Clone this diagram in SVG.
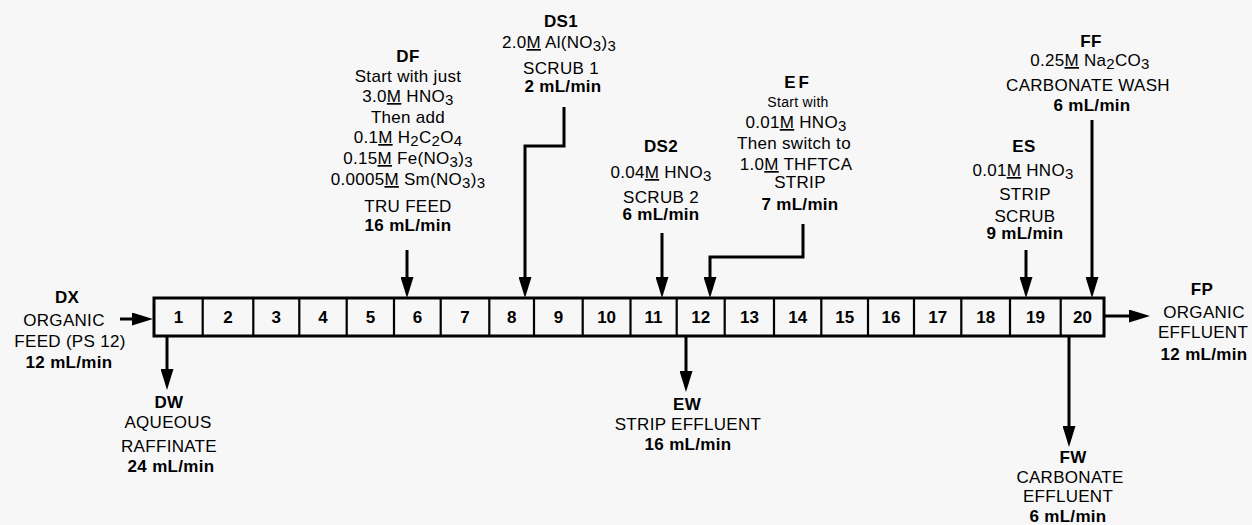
<svg xmlns="http://www.w3.org/2000/svg" width="1252" height="525" viewBox="0 0 1252 525">
<style>
.t{font-family:"Liberation Sans",Arial,Helvetica,sans-serif;font-size:17px;text-anchor:middle;fill:#000;letter-spacing:0.3px}
.b{font-weight:bold}
.s{font-size:14px}
.u{text-decoration:underline}
.sub{font-size:15px}
.ln{stroke:#000;stroke-width:3;fill:none}
.dv{stroke:#000;stroke-width:2.2}
.box{fill:none;stroke:#000;stroke-width:3}
.num{font-family:"Liberation Sans",Arial,Helvetica,sans-serif;font-size:17px;font-weight:bold;text-anchor:middle;fill:#000}
</style>
<defs>
<marker id="ah" markerUnits="userSpaceOnUse" markerWidth="21" markerHeight="13" viewBox="0 0 21 13" refX="13" refY="6.5" orient="auto">
<path d="M0,0 L21,6.5 L0,13 z" fill="#000"/>
</marker>
</defs>
<rect width="1252" height="525" fill="#f7f7f7"/>

<g id="stages">
<rect class="box" x="154" y="298" width="950" height="38"/>
<path class="dv" d="M202.7,298V336M253.3,298V336M299.3,298V336M346.7,298V336M394,298V336M440.7,298V336M489.3,298V336M534,298V336M582.7,298V336M630.5,298V336M676.7,298V336M724.7,298V336M774,298V336M821.3,298V336M868,298V336M914,298V336M961.3,298V336M1010,298V336M1060.7,298V336"/>
<text class="num" x="178.4" y="323">1</text>
<text class="num" x="228" y="323">2</text>
<text class="num" x="276.3" y="323">3</text>
<text class="num" x="323" y="323">4</text>
<text class="num" x="370.4" y="323">5</text>
<text class="num" x="417.4" y="323">6</text>
<text class="num" x="465" y="323">7</text>
<text class="num" x="511.7" y="323">8</text>
<text class="num" x="558.4" y="323">9</text>
<text class="num" x="606.6" y="323">10</text>
<text class="num" x="653.6" y="323">11</text>
<text class="num" x="700.7" y="323">12</text>
<text class="num" x="749.4" y="323">13</text>
<text class="num" x="797.7" y="323">14</text>
<text class="num" x="844.7" y="323">15</text>
<text class="num" x="891" y="323">16</text>
<text class="num" x="937.7" y="323">17</text>
<text class="num" x="985.7" y="323">18</text>
<text class="num" x="1035.4" y="323">19</text>
<text class="num" x="1082.4" y="323">20</text>
</g>

<g id="connectors">
<path class="ln" marker-end="url(#ah)" d="M120,319 H145"/>
<path class="ln" marker-end="url(#ah)" d="M167,336 V382"/>
<path class="ln" marker-end="url(#ah)" d="M407,250 V290"/>
<path class="ln" marker-end="url(#ah)" d="M564,107 V146 H525 V290"/>
<path class="ln" marker-end="url(#ah)" d="M662,233 V290"/>
<path class="ln" marker-end="url(#ah)" d="M803,224 V257 H710 V290"/>
<path class="ln" marker-end="url(#ah)" d="M1026,250 V290"/>
<path class="ln" marker-end="url(#ah)" d="M1092,120 V290"/>
<path class="ln" marker-end="url(#ah)" d="M1104,316 H1142"/>
<path class="ln" marker-end="url(#ah)" d="M686,336 V384"/>
<path class="ln" marker-end="url(#ah)" d="M1069,336 V439"/>
</g>

<g id="DX">
<text class="t b" x="67" y="303">DX</text>
<text class="t" x="64" y="326">ORGANIC</text>
<text class="t" x="70" y="347">FEED (PS 12)</text>
<text class="t b" x="69" y="368">12 mL/min</text>
</g>

<g id="DW">
<text class="t b" x="169" y="408">DW</text>
<text class="t" x="168" y="428">AQUEOUS</text>
<text class="t" x="169" y="452">RAFFINATE</text>
<text class="t b" x="171" y="472">24 mL/min</text>
</g>

<g id="DF">
<text class="t b" x="408" y="62">DF</text>
<text class="t" x="408" y="82">Start with just</text>
<text class="t" x="408" y="102">3.0<tspan class="u">M</tspan> HNO<tspan class="sub" dy="3">3</tspan></text>
<text class="t" x="408" y="123">Then add</text>
<text class="t" x="408" y="143">0.1<tspan class="u">M</tspan> H<tspan class="sub" dy="3">2</tspan><tspan dy="-3">C</tspan><tspan class="sub" dy="3">2</tspan><tspan dy="-3">O</tspan><tspan class="sub" dy="3">4</tspan></text>
<text class="t" x="408" y="164">0.15<tspan class="u">M</tspan> Fe(NO<tspan class="sub" dy="3">3</tspan><tspan dy="-3">)</tspan><tspan class="sub" dy="3">3</tspan></text>
<text class="t" x="408" y="185">0.0005<tspan class="u">M</tspan> Sm(NO<tspan class="sub" dy="3">3</tspan><tspan dy="-3">)</tspan><tspan class="sub" dy="3">3</tspan></text>
<text class="t" x="408" y="212">TRU FEED</text>
<text class="t b" x="408" y="231">16 mL/min</text>
</g>

<g id="DS1">
<text class="t b" x="561" y="27">DS1</text>
<text class="t" x="559" y="48">2.0<tspan class="u">M</tspan> Al(NO<tspan class="sub" dy="3">3</tspan><tspan dy="-3">)</tspan><tspan class="sub" dy="3">3</tspan></text>
<text class="t" x="561" y="74">SCRUB 1</text>
<text class="t b" x="563" y="92">2 mL/min</text>
</g>

<g id="DS2">
<text class="t b" x="661" y="152">DS2</text>
<text class="t" x="661" y="178">0.04<tspan class="u">M</tspan> HNO<tspan class="sub" dy="3">3</tspan></text>
<text class="t" x="661" y="203">SCRUB 2</text>
<text class="t b" x="661" y="220">6 mL/min</text>
</g>

<g id="EF">
<text class="t b" x="798" y="88" style="letter-spacing:3px">EF</text>
<text class="t s" x="798" y="107">Start with</text>
<text class="t" x="796" y="128">0.01<tspan class="u">M</tspan> HNO<tspan class="sub" dy="3">3</tspan></text>
<text class="t" x="794" y="149">Then switch to</text>
<text class="t" x="796" y="170">1.0<tspan class="u">M</tspan> THFTCA</text>
<text class="t" x="800" y="188">STRIP</text>
<text class="t b" x="800" y="210">7 mL/min</text>
</g>

<g id="ES">
<text class="t b" x="1024" y="152">ES</text>
<text class="t" x="1023" y="176">0.01<tspan class="u">M</tspan> HNO<tspan class="sub" dy="3">3</tspan></text>
<text class="t" x="1025" y="200">STRIP</text>
<text class="t" x="1025" y="222">SCRUB</text>
<text class="t b" x="1025" y="239">9 mL/min</text>
</g>

<g id="FF">
<text class="t b" x="1091" y="47">FF</text>
<text class="t" x="1090" y="66">0.25<tspan class="u">M</tspan> Na<tspan class="sub" dy="3">2</tspan><tspan dy="-3">CO</tspan><tspan class="sub" dy="3">3</tspan></text>
<text class="t" x="1088" y="91">CARBONATE WASH</text>
<text class="t b" x="1092" y="111">6 mL/min</text>
</g>

<g id="FP">
<text class="t b" x="1202" y="295">FP</text>
<text class="t" x="1204" y="318">ORGANIC</text>
<text class="t" x="1203" y="338">EFFLUENT</text>
<text class="t b" x="1204" y="360">12 mL/min</text>
</g>

<g id="EW">
<text class="t b" x="687" y="410">EW</text>
<text class="t" x="688" y="430">STRIP EFFLUENT</text>
<text class="t b" x="688" y="450">16 mL/min</text>
</g>

<g id="FW">
<text class="t b" x="1073" y="463">FW</text>
<text class="t" x="1070" y="483">CARBONATE</text>
<text class="t" x="1068" y="502">EFFLUENT</text>
<text class="t b" x="1068" y="522">6 mL/min</text>
</g>
</svg>
